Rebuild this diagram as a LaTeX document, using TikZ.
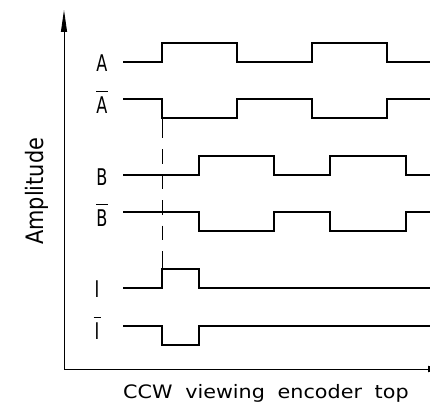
\documentclass[tikz,border=0pt]{standalone}
\usepackage{fontspec}
\setmainfont{DejaVu Sans}
\usetikzlibrary{arrows.meta}
\newcommand\ovlbar[1]{\vbox{\hrule height 1.2pt\kern 4.5pt\hbox{#1}}}
\begin{document}
\begin{tikzpicture}[x=1pt,y=-1pt,
  sig/.style={line width=1.3pt,line join=miter},
  axis/.style={line width=0.9pt,-{Triangle[length=22pt,width=6pt]}},
  dashline/.style={line width=0.9pt,dash pattern=on 20pt off 11pt on 14.5pt off 11pt on 14.5pt off 11pt on 14.5pt off 11pt on 14.5pt off 11pt on 19pt off 30pt},
  lbl/.style={inner sep=0pt,anchor=base,font=\fontsize{23}{23}\selectfont}]
\useasboundingbox (0,0) rectangle (430,409);
% axes
\draw[axis] (64,369) -- (64,10);
\draw[axis] (64,369) -- (450,369);
% dashed marker
\draw[dashline] (162,118) -- (162,269);
% signals
\draw[sig] (123,62) -- (162,62) -- (162,43) -- (237,43) -- (237,62) -- (312,62) -- (312,43) -- (387,43) -- (387,62) -- (430,62);
\draw[sig] (123,99) -- (162,99) -- (162,118) -- (237,118) -- (237,99) -- (312,99) -- (312,118) -- (387,118) -- (387,99) -- (430,99);
\draw[sig] (123,175) -- (199,175) -- (199,156) -- (274,156) -- (274,175) -- (330,175) -- (330,156) -- (406,156) -- (406,175) -- (430,175);
\draw[sig] (123,212) -- (199,212) -- (199,231) -- (274,231) -- (274,212) -- (330,212) -- (330,231) -- (406,231) -- (406,212) -- (430,212);
\draw[sig] (123,288) -- (162,288) -- (162,269) -- (199,269) -- (199,288) -- (430,288);
\draw[sig] (123,326) -- (162,326) -- (162,345) -- (199,345) -- (199,326) -- (430,326);
% labels
\node[lbl] (lA)  at (102,72)  {\scalebox{0.7}[1]{A}};
\node[lbl] (lAb) at (102,113) {\scalebox{0.7}[1]{\ovlbar{A}}};
\node[lbl] (lB)  at (102,185) {\scalebox{0.7}[1]{B}};
\node[lbl] (lBb) at (102,226) {\scalebox{0.7}[1]{\ovlbar{B}}};
\node[lbl] (lI)  at (97,297)  {\scalebox{0.7}[1]{I}};
\node[lbl] (lIb) at (97,339)  {\scalebox{0.7}[1]{\ovlbar{\hbox to 10pt{\hss I\hss}}}};
\node[inner sep=0pt,anchor=base west,rotate=90,font=\fontsize{24}{24}\selectfont] (ylab) at (43,245) {\scalebox{0.87}[1]{Amplitude}};
\node[inner sep=0pt,anchor=base west,font=\fontsize{18.5}{18.5}\selectfont] (xlab) at (123,398) {\scalebox{1.12}[1]{\spaceskip=11.3pt CCW viewing encoder top}};
\end{tikzpicture}
\end{document}
